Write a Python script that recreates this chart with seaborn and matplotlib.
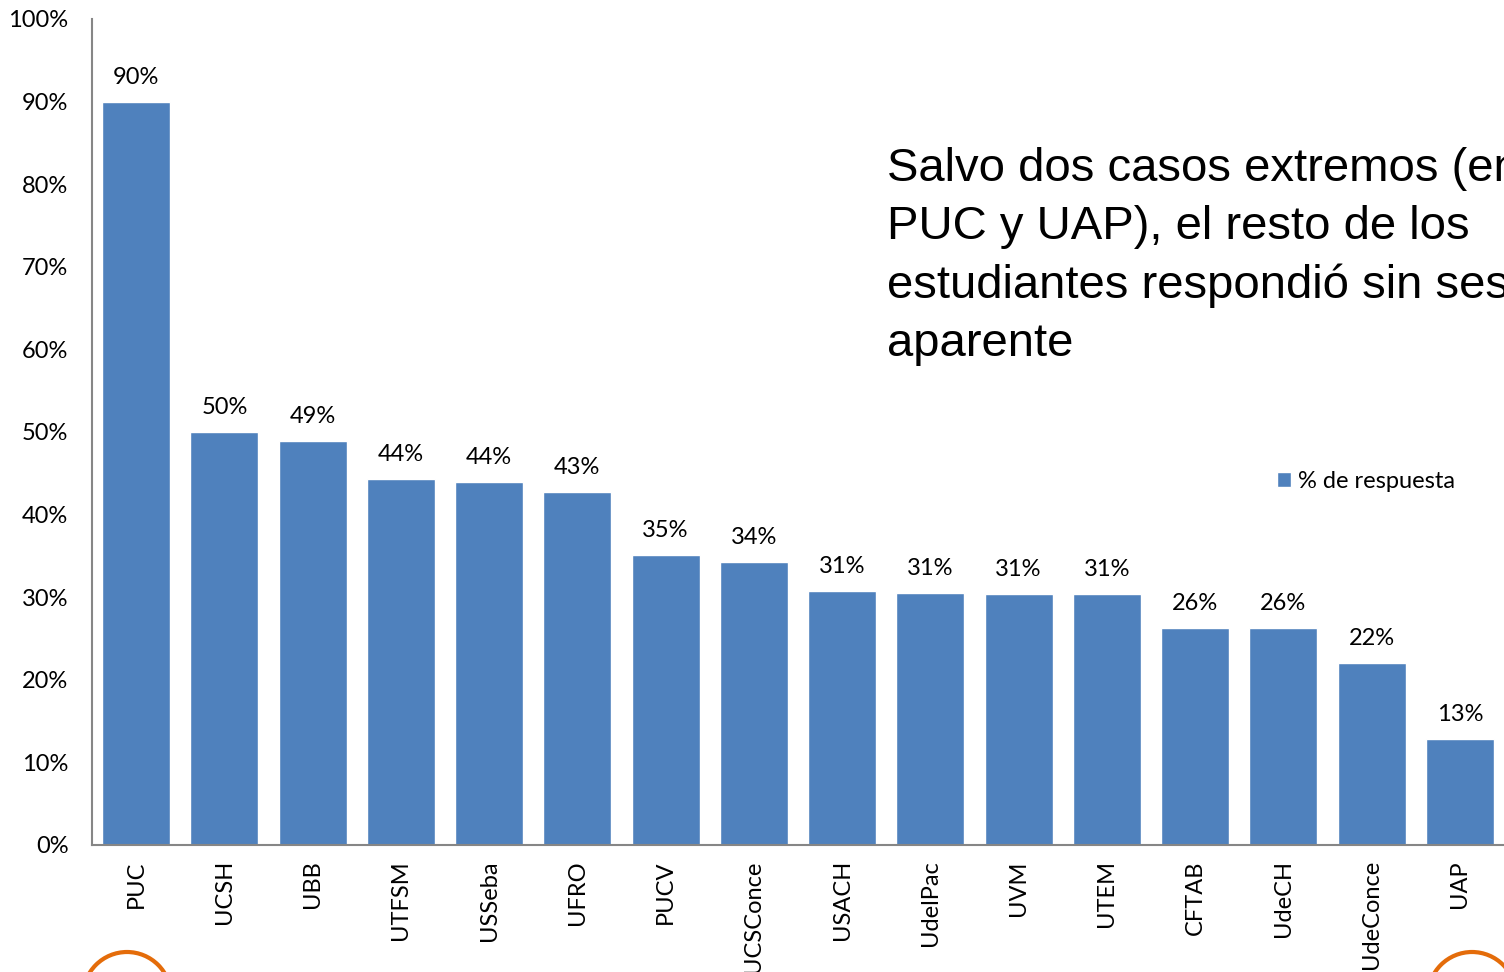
import pandas as pd
import matplotlib.pyplot as plt
import seaborn as sns
from matplotlib.patches import Circle

# Data
categories = ['PUC', 'UCSH', 'UBB', 'UTFSM', 'USSeba', 'UFRO', 'PUCV', 'UCSConce',
              'USACH', 'UdelPac', 'UVM', 'UTEM', 'CFTAB', 'UdeCH', 'UdeConce', 'UAP']
values = [0.90, 0.50, 0.489, 0.443, 0.439, 0.427, 0.351, 0.343,
          0.308, 0.305, 0.304, 0.304, 0.263, 0.263, 0.220, 0.128]
labels = ['90%', '50%', '49%', '44%', '44%', '43%', '35%', '34%',
          '31%', '31%', '31%', '31%', '26%', '26%', '22%', '13%']
series_name = '% de respuesta'

df = pd.DataFrame({'Institución': categories, 'Valor': values, 'Serie': series_name})

sns.set_style('white')
plt.rcParams['font.family'] = ['Lato', 'DejaVu Sans']
plt.rcParams['text.color'] = 'black'
plt.rcParams['xtick.color'] = 'black'
plt.rcParams['ytick.color'] = 'black'

fig = plt.figure(figsize=(15.04, 9.72), dpi=100)
ax = fig.add_axes([0.0612, 0.1307, 0.9388, 0.8498])

sns.barplot(data=df, x='Institución', y='Valor', hue='Serie', palette=['#4F81BD'],
            width=0.77, saturation=1, ax=ax, legend=True)

ax.set_ylim(0, 1.0)
ax.set_xlim(-0.5, len(categories) - 0.5)
ax.set_yticks([i / 10 for i in range(11)])
ax.set_yticklabels([f'{i * 10}%' for i in range(11)])
ax.set_xlabel('')
ax.set_ylabel('')
ax.tick_params(axis='y', length=0, pad=17, labelsize=17)
ax.tick_params(axis='x', length=0, pad=11, labelsize=17, rotation=90)

for s in ['top', 'right']:
    ax.spines[s].set_visible(False)
for s in ['left', 'bottom']:
    ax.spines[s].set_color('#868686')
    ax.spines[s].set_linewidth(1.5)

# Value labels above the bars
for i, (v, lab) in enumerate(zip(values, labels)):
    ax.annotate(lab, (i, v), xytext=(0, 10), textcoords='offset points',
                ha='center', va='bottom', fontsize=17)

leg = ax.legend(loc='center left', bbox_to_anchor=(0.824, 0.44), frameon=False,
                fontsize=17, handlelength=0.6, handleheight=0.6, handletextpad=0.3)

# Annotation text (runs off the right edge as in the original slide)
fig.text(887 / 1504, 1 - 147 / 972,
         'Salvo dos casos extremos (en\nPUC y UAP), el resto de los\n'
         'estudiantes respondió sin sesgo\naparente',
         family='Liberation Sans', fontsize=34, va='top', ha='left',
         linespacing=1.41, transform=fig.transFigure)

# Decorative orange circles cut off at the bottom
for cx in [127, 1472]:
    fig.patches.append(Circle((cx / 100, (972 - 996) / 100), 0.44, fill=False,
                              edgecolor='#E46C0A', linewidth=3,
                              transform=fig.dpi_scale_trans))

fig.savefig('out.png', dpi=100)
